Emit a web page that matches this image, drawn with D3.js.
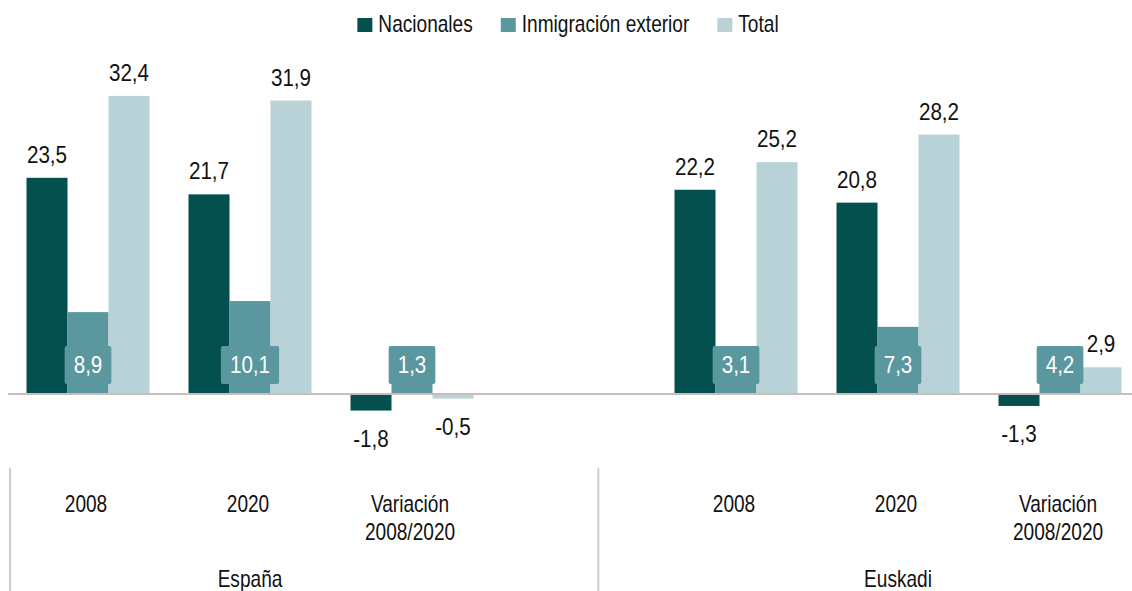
<!DOCTYPE html>
<html>
<head>
<meta charset="utf-8">
<script src="https://cdn.jsdelivr.net/npm/d3@7"></script>
<style>
  html, body { margin: 0; padding: 0; background: #fff; }
  #chart text { font-family: "Liberation Sans", Arial, sans-serif; }
</style>
</head>
<body>
<div id="chart"></div>
<script>
// Nacionales / Inmigración exterior / Total — España y Euskadi, 2008, 2020 y variación
const catKeys   = ["es2008", "es2020", "esVar", "gap", "eu2008", "eu2020", "euVar"];
const catLabels = [["2008"], ["2020"], ["Variación", "2008/2020"], [], ["2008"], ["2020"], ["Variación", "2008/2020"]];
const regions   = ["España", "Euskadi"];
const catRegion = [0, 0, 0, null, 1, 1, 1];

const series = ["Nacionales", "Inmigración exterior", "Total"];
const nacionales  = [23.5, 21.7, -1.8, null, 22.2, 20.8, -1.3];
const inmigracion = [8.9, 10.1, 1.3, null, 3.1, 7.3, 4.2];
const total       = [32.4, 31.9, -0.5, null, 25.2, 28.2, 2.9];

const colors = ["#03504f", "#5a979e", "#b8d2d7"];

const locale = d3.formatLocale({ decimal: ",", thousands: ".", grouping: [3], currency: ["", "€"], minus: "-" });
const fmt = locale.format(".1f");

const width = 1132, height = 591;
// fuente condensada simulada: escala horizontal
const SX_TXT = 0.83, SX_NUM = 0.86;
const at = (px, py, sx) => `translate(${px},${py}) scale(${sx},1)`;

const svg = d3.select("#chart").append("svg")
  .attr("width", width).attr("height", height);

// escalas
const x = d3.scaleBand().domain(catKeys).range([7, 1141]).padding(0);
const x1 = d3.scaleBand().domain(series).range([19.5, x.bandwidth() - 19.5]).padding(0);
const y = d3.scaleLinear().domain([-5, 35]).range([440, 72]);

const rows = [];
catKeys.forEach((k, i) => {
  [nacionales, inmigracion, total].forEach((arr, s) => {
    if (arr[i] != null) rows.push({ cat: k, s, name: series[s], v: arr[i] });
  });
});
const cx = d => x(d.cat) + x1(d.name) + x1.bandwidth() / 2;

// barras
svg.append("g").selectAll("rect")
  .data(rows).join("rect")
  .attr("x", d => x(d.cat) + x1(d.name))
  .attr("y", d => y(Math.max(0, d.v)))
  .attr("width", x1.bandwidth())
  .attr("height", d => Math.abs(y(d.v) - y(0)))
  .attr("fill", d => colors[d.s]);

// línea base
svg.append("line")
  .attr("x1", 8).attr("x2", width)
  .attr("y1", y(0)).attr("y2", y(0))
  .attr("stroke", "#c9bdba").attr("stroke-width", 2.2);

// etiquetas Nacionales / Total
svg.append("g").selectAll("text")
  .data(rows.filter(d => d.s !== 1)).join("text")
  .attr("transform", d => at(cx(d), d.v >= 0 ? y(d.v) - 15 : y(d.v) + 36, SX_NUM))
  .attr("text-anchor", "middle")
  .attr("font-size", 24)
  .attr("fill", "#111")
  .text(d => fmt(d.v));

// etiquetas Inmigración (caja en la base)
const boxes = svg.append("g").selectAll("g")
  .data(rows.filter(d => d.s === 1)).join("g")
  .attr("transform", d => `translate(${cx(d)},${y(0) - 29})`);

boxes.append("text")
  .attr("transform", `scale(${SX_NUM},1)`)
  .attr("text-anchor", "middle")
  .attr("dy", "0.35em")
  .attr("font-size", 24)
  .attr("fill", "#fff")
  .text(d => fmt(d.v));

boxes.insert("rect", "text")
  .each(function () {
    const w = this.parentNode.querySelector("text").getComputedTextLength() * SX_NUM + 18;
    d3.select(this).attr("x", -w / 2).attr("width", w);
  })
  .attr("y", -19).attr("height", 38)
  .attr("rx", 2)
  .attr("fill", colors[1]);

// etiquetas de categoría
const catG = svg.append("g").selectAll("text")
  .data(catKeys.map((k, i) => ({ k, lines: catLabels[i] }))).join("text")
  .attr("transform", d => at(x(d.k) + x.bandwidth() / 2 - 2, 512, SX_TXT))
  .attr("text-anchor", "middle")
  .attr("font-size", 23)
  .attr("fill", "#111");
catG.selectAll("tspan")
  .data(d => d.lines).join("tspan")
  .attr("x", 0)
  .attr("dy", (d, i) => i ? 28 : 0)
  .text(d => d);

// etiquetas de región
svg.append("g").selectAll("text")
  .data(regions).join("text")
  .attr("transform", (r, ri) => at(d3.mean(catKeys.filter((k, i) => catRegion[i] === ri), k => x(k) + x.bandwidth() / 2), 587, SX_TXT))
  .attr("text-anchor", "middle")
  .attr("font-size", 23)
  .attr("fill", "#111")
  .text(d => d);

// separadores del eje
const sepX = [x.range()[0] + 3, x("gap") + x.bandwidth() * 0.65];
svg.append("g").selectAll("line")
  .data(sepX).join("line")
  .attr("x1", d => d).attr("x2", d => d)
  .attr("y1", 468).attr("y2", height)
  .attr("stroke", "#d4cbc9").attr("stroke-width", 2);

// leyenda
const leg = svg.append("g");
const items = leg.selectAll("g").data(series).join("g");
items.append("rect")
  .attr("y", 18).attr("width", 15).attr("height", 14)
  .attr("fill", (d, i) => colors[i]);
items.append("text")
  .attr("transform", at(21, 32, SX_TXT))
  .attr("font-size", 23)
  .attr("fill", "#111")
  .text(d => d);
let off = 0;
items.each(function () {
  const w = 21 + this.querySelector("text").getComputedTextLength() * SX_TXT;
  d3.select(this).attr("transform", `translate(${off},0)`);
  off += w + 28;
});
const legW = off - 28;
leg.attr("transform", `translate(${(width - legW) / 2 + 2},0)`);
</script>
</body>
</html>
